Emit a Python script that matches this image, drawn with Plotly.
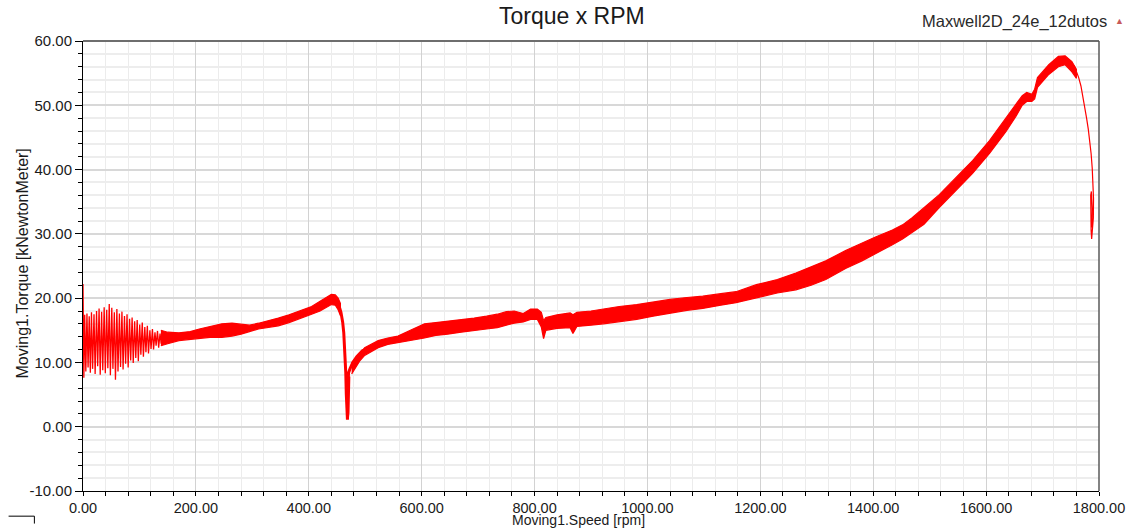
import plotly.graph_objects as go

# ---- Torque x speed record (Moving1) ----
# start-up oscillation: successive peaks and troughs
osc_speed = [0.0, 0.5, 1.5, 3.0, 5.0, 7.0, 9.0, 11.0, 13.0, 15.0, 17.0, 19.5, 21.5, 24.0,
             26.0, 28.5, 30.5, 33.0, 35.0, 37.5, 39.5, 42.0, 44.0, 46.5, 48.5, 51.0, 53.0,
             55.5, 57.5, 60.0, 62.0, 64.5, 66.5, 69.0, 71.0, 73.5, 75.5, 78.0, 80.0, 82.5,
             84.5, 87.0, 89.0, 91.5, 93.5, 96.0, 98.0, 100.5, 102.5, 105.0, 107.0, 109.5,
             111.5, 114.0, 116.0, 118.5, 120.5, 123.0, 125.0, 127.5, 129.5, 132.0, 134.0,
             136.5, 138.5, 141.0, 143.0]
osc_torque = [22.2, 14.0, 7.6, 17.4, 8.6, 17.6, 9.2, 17.2, 8.4, 17.8, 9.0, 17.5, 8.2, 18.0,
              9.4, 18.4, 8.1, 17.9, 8.8, 18.6, 8.3, 18.2, 9.1, 19.1, 8.0, 18.5, 9.0,
              17.8, 7.3, 18.3, 8.6, 17.6, 9.3, 17.9, 8.9, 17.2, 9.8, 17.5, 9.2, 16.8,
              10.3, 17.0, 9.9, 16.4, 10.7, 16.6, 10.2, 15.9, 11.2, 16.2, 10.9, 15.5,
              11.6, 15.7, 11.4, 15.0, 12.1, 15.2, 12.0, 14.7, 12.6, 14.9, 12.3,
              14.5, 12.9, 14.6, 13.2]

# noisy band before the pull-out dip (upper / lower envelope)
band_a_speed = [138, 150, 170, 190, 206, 225, 246, 264, 280, 295, 311, 330, 346, 365,
                382, 405, 420, 429, 440, 447, 452, 456]
band_a_upper = [15.0, 14.7, 14.6, 14.8, 15.2, 15.6, 16.0, 16.1, 15.9, 15.8, 16.1, 16.5,
                16.9, 17.4, 18.0, 18.7, 19.5, 20.0, 20.6, 20.5, 20.0, 19.2]
band_a_lower = [12.6, 12.9, 13.4, 13.6, 13.7, 13.9, 13.9, 14.1, 14.4, 14.8, 15.2, 15.5,
                15.7, 16.2, 16.7, 17.5, 18.0, 18.4, 19.0, 18.9, 18.2, 17.3]

# pull-out dip
dip_speed = [448, 453, 457, 460, 462, 464, 465.5, 466.5, 467.5, 468.5, 469.5, 469.0,
             467.0, 466.5, 467.5, 468.5, 469.5, 470.5, 471.0, 469.5, 470.5, 473, 478,
             485, 495, 510, 530]
dip_torque = [19.8, 19.0, 17.8, 16.3, 14.6, 11.5, 8.5, 5.0, 2.5, 1.1, 3.0, 7.5,
              8.0, 5.5, 3.0, 1.4, 2.2, 5.0, 7.8, 6.5, 8.4, 9.0, 10.0,
              10.9, 11.8, 12.4, 13.0]

# noisy band after the dip up to the breakdown peak
band_b_speed = [476, 482, 490, 499, 510, 523, 540, 558, 580, 605, 625, 646, 670, 693,
                715, 734, 750, 764, 780, 793, 805, 812, 816, 820, 840, 863, 868, 875,
                900, 922, 950, 981, 1010, 1040, 1070, 1098, 1130, 1157, 1193, 1230,
                1263, 1290, 1316, 1351, 1380, 1404, 1434, 1452, 1469, 1490, 1517, 1546,
                1576, 1606, 1635, 1653, 1664, 1672, 1681, 1686, 1691, 1699, 1711, 1728,
                1740, 1752, 1760]
band_b_upper = [9.9, 10.4, 11.2, 12.3, 12.8, 13.4, 13.8, 14.1, 15.0, 16.0, 16.2, 16.4,
                16.6, 16.9, 17.2, 17.5, 17.9, 18.0, 17.6, 18.3, 18.3, 17.8, 16.5, 17.0,
                17.4, 17.7, 17.4, 17.8, 18.0, 18.3, 18.7, 19.0, 19.4, 19.8, 20.1, 20.3,
                20.7, 21.0, 22.1, 22.9, 23.9, 24.9, 25.8, 27.4, 28.6, 29.5, 30.6, 31.4,
                32.5, 34.1, 36.1, 38.7, 41.4, 44.5, 47.9, 50.2, 51.5, 52.0, 51.7, 52.5,
                54.3, 55.1, 56.3, 57.6, 57.7, 56.8, 55.6]
band_b_lower = [8.2, 9.1, 10.2, 11.1, 11.7, 12.3, 12.8, 13.1, 13.4, 13.8, 14.2, 14.4,
                14.7, 14.9, 15.2, 15.4, 15.8, 16.1, 16.3, 16.7, 16.7, 15.5, 13.7, 15.0,
                15.3, 15.4, 14.5, 15.6, 15.8, 16.0, 16.3, 16.7, 17.2, 17.7, 18.1, 18.4,
                18.9, 19.3, 20.0, 20.8, 21.3, 22.0, 22.9, 24.6, 25.8, 26.9, 28.3, 29.2,
                30.2, 31.5, 34.1, 36.7, 39.4, 42.5, 45.9, 48.3, 50.0, 50.6, 50.6, 51.0,
                52.8, 53.7, 54.8, 56.0, 56.3, 55.2, 54.2]

# final run-down to synchronous speed
tail_speed = [1756, 1760, 1764, 1768, 1772, 1775, 1778, 1781, 1784, 1786, 1788, 1789.5,
              1790.3, 1790.0, 1788.5, 1787.0, 1786.0, 1785.0, 1785.3, 1786.5, 1788.0,
              1787.5]
tail_torque = [56.2, 55.3, 54.3, 53.0, 51.2, 49.6, 48.0, 46.3, 44.5, 42.5, 40.2, 37.5,
               35.5, 32.5, 29.8, 29.2, 30.5, 33.5, 36.0, 36.6, 34.0, 31.0]

x_tick_vals = [0, 200, 400, 600, 800, 1000, 1200, 1400, 1600, 1800]
x_tick_labels = ["0.00", "200.00", "400.00", "600.00", "800.00", "1000.00", "1200.00",
                 "1400.00", "1600.00", "1800.00"]
y_tick_vals = [-10, 0, 10, 20, 30, 40, 50, 60]
y_tick_labels = ["-10.00", "0.00", "10.00", "20.00", "30.00", "40.00", "50.00", "60.00"]

RED = "#ff0000"
FONT = "Arial, Liberation Sans, sans-serif"
TXT = "#1a1a1a"

fig = go.Figure()


def add_band(speed, upper, lower):
    fig.add_trace(go.Scatter(
        x=list(speed) + list(speed)[::-1],
        y=list(upper) + list(lower)[::-1],
        mode="lines", fill="toself", fillcolor=RED,
        line=dict(color=RED, width=1.2), hoverinfo="skip", showlegend=False))


fig.add_trace(go.Scatter(x=osc_speed, y=osc_torque, mode="lines",
                         line=dict(color=RED, width=1.3), showlegend=False))
add_band(band_a_speed, band_a_upper, band_a_lower)
fig.add_trace(go.Scatter(x=dip_speed, y=dip_torque, mode="lines",
                         line=dict(color=RED, width=3), showlegend=False))
add_band(band_b_speed, band_b_upper, band_b_lower)
fig.add_trace(go.Scatter(x=tail_speed, y=tail_torque, mode="lines",
                         line=dict(color=RED, width=1.2), showlegend=False))


def px_x(px):
    return (px - 83) / 1024


def px_y(py):
    return (497 - py) / 456


fig.update_layout(
    width=1137, height=528,
    margin=dict(l=83, r=30, t=41, b=31),
    paper_bgcolor="white", plot_bgcolor="white",
    font=dict(family=FONT, color=TXT, size=15),
    showlegend=False,
    xaxis=dict(
        range=[0, 1800], tickvals=x_tick_vals, ticktext=x_tick_labels,
        showgrid=True, gridcolor="#d2d2d2", gridwidth=1,
        showline=True, linecolor="#000000", linewidth=1,
        ticks="outside", ticklen=4, tickcolor="#000000",
        minor=dict(dtick=40, tick0=0, showgrid=True, gridcolor="#ececec",
                   ticks="outside", ticklen=4, tickcolor="#000000"),
        zeroline=False, tickfont=dict(size=14.5, color=TXT),
    ),
    yaxis=dict(
        range=[-10, 60], tickvals=y_tick_vals, ticktext=y_tick_labels,
        showgrid=True, gridcolor="#d8d8d8", gridwidth=2,
        showline=True, linecolor="#000000", linewidth=1,
        ticks="outside", ticklen=7, tickcolor="#000000",
        minor=dict(dtick=2, tick0=0, showgrid=True, gridcolor="#ededed", gridwidth=2,
                   ticks="outside", ticklen=4, tickcolor="#000000"),
        zeroline=False, tickfont=dict(size=15, color=TXT),
    ),
    shapes=[
        # frame top and right
        dict(type="line", xref="paper", yref="paper", x0=0, x1=1, y0=1, y1=1,
             line=dict(color="#6e6e6e", width=2)),
        dict(type="line", xref="paper", yref="paper", x0=1, x1=1, y0=0, y1=1,
             line=dict(color="#5a5a5a", width=1.5)),
        # small corner bracket at the bottom left
        dict(type="line", xref="paper", yref="paper",
             x0=px_x(8), x1=px_x(34), y0=px_y(522.5), y1=px_y(522.5),
             line=dict(color="#000000", width=1)),
        dict(type="line", xref="paper", yref="paper",
             x0=px_x(34), x1=px_x(34), y0=px_y(522.5), y1=px_y(530),
             line=dict(color="#000000", width=1)),
    ],
    annotations=[
        dict(text="Torque x RPM", xref="paper", yref="paper",
             x=px_x(576), y=px_y(31), xanchor="center", yanchor="bottom",
             showarrow=False, font=dict(size=23, color=TXT, family=FONT)),
        dict(text="Maxwell2D_24e_12dutos", xref="paper", yref="paper",
             x=1.0, y=px_y(21.5), xanchor="right", yanchor="middle", xshift=10,
             showarrow=False, font=dict(size=16.5, color="#2a2a2a", family=FONT)),
        dict(text="\u25b2", xref="paper", yref="paper",
             x=px_x(1128), y=px_y(21), xanchor="center", yanchor="middle",
             showarrow=False, font=dict(size=9, color="#c85a5a", family=FONT)),
        dict(text="Moving1.Torque [kNewtonMeter]", xref="paper", yref="paper",
             x=px_x(22), y=px_y(266), xanchor="center", yanchor="middle",
             textangle=-90, showarrow=False, font=dict(size=16, color=TXT, family=FONT)),
        dict(text="Moving1.Speed [rpm]", xref="paper", yref="paper",
             x=px_x(582), y=px_y(517), xanchor="center", yanchor="top", borderpad=0,
             showarrow=False, font=dict(size=14, color=TXT, family=FONT)),
    ],
)

fig.write_html("out.html")
